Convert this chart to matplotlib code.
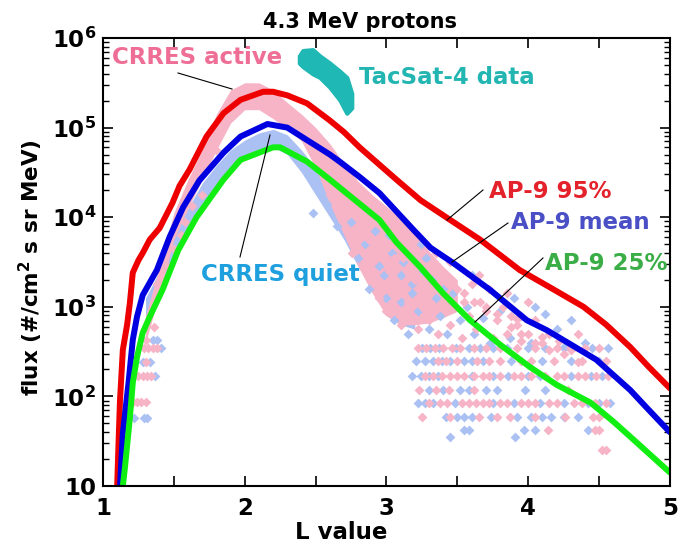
import matplotlib
matplotlib.use('Agg')
import matplotlib.pyplot as plt
import numpy as np
from matplotlib.ticker import FixedLocator, LogLocator, NullFormatter

plt.rcParams['font.family'] = ['DejaVu Sans']
plt.rcParams['font.weight'] = 'bold'
plt.rcParams['mathtext.fontset'] = 'dejavusans'
plt.rcParams['mathtext.default'] = 'bf'

# AP-9 model curves (L, log10 flux)
ap95_L = [1.10, 1.11, 1.12, 1.14, 1.17, 1.19, 1.21, 1.25, 1.28, 1.33, 1.40, 1.49, 1.54, 1.61, 1.73,
          1.85, 1.97, 2.13, 2.20, 2.30, 2.44, 2.60, 2.70, 2.81, 3.07, 3.24, 3.43, 3.66, 3.94, 4.15,
          4.39, 4.55, 4.72, 4.85, 5.00]
ap95_log = [1.0, 1.5, 1.96, 2.52, 2.80, 3.05, 3.38, 3.52, 3.60, 3.75, 3.88, 4.16, 4.35, 4.53, 4.90,
            5.16, 5.31, 5.40, 5.40, 5.36, 5.27, 5.08, 4.95, 4.78, 4.42, 4.19, 3.99, 3.75, 3.41, 3.22,
            3.00, 2.80, 2.55, 2.33, 2.09]

apmean_L = [1.12, 1.14, 1.18, 1.21, 1.24, 1.28, 1.38, 1.47, 1.565, 1.68, 1.85, 1.97, 2.16, 2.30,
            2.44, 2.60, 2.67, 2.81, 2.95, 3.19, 3.31, 3.47, 3.73, 3.99, 4.13, 4.30, 4.48, 4.72,
            4.85, 5.00]
apmean_log = [1.0, 1.59, 2.15, 2.63, 2.89, 3.13, 3.41, 3.78, 4.11, 4.41, 4.72, 4.90, 5.04, 5.00,
              4.86, 4.70, 4.62, 4.45, 4.27, 3.86, 3.66, 3.49, 3.19, 2.85, 2.74, 2.58, 2.41, 2.07,
              1.85, 1.60]

ap25_L = [1.14, 1.155, 1.19, 1.21, 1.24, 1.28, 1.33, 1.42, 1.53, 1.66, 1.85, 1.97, 2.20, 2.25,
          2.44, 2.60, 2.95, 3.07, 3.24, 3.40, 3.59, 3.80, 4.01, 4.20, 4.44, 4.60, 4.72, 4.86, 5.00]
ap25_log = [1.0, 1.21, 1.77, 2.15, 2.44, 2.71, 2.89, 3.19, 3.63, 4.00, 4.42, 4.64, 4.78, 4.78,
            4.62, 4.42, 3.97, 3.72, 3.44, 3.15, 2.85, 2.58, 2.33, 2.13, 1.93, 1.72, 1.55, 1.35, 1.15]

# CRRES dense cores (L, low/high log10 flux)
act_L = [1.30, 1.40, 1.50, 1.60, 1.70, 1.80, 1.90, 2.00, 2.10, 2.20, 2.30, 2.40, 2.50, 2.60,
         2.70, 2.80, 2.90, 3.00, 3.10, 3.20, 3.30, 3.40, 3.50]
act_hi = [2.90, 3.45, 4.05, 4.42, 4.75, 5.15, 5.42, 5.50, 5.50, 5.42, 5.28, 5.15, 5.00, 4.82,
          4.60, 4.40, 4.25, 4.12, 3.98, 3.82, 3.62, 3.45, 3.30]
act_lo = [2.60, 3.15, 3.75, 4.10, 4.42, 4.75, 5.05, 5.20, 5.20, 5.10, 4.98, 4.85, 4.55, 4.15,
          3.80, 3.45, 3.15, 2.90, 2.80, 2.80, 2.82, 2.88, 2.95]

qui_L = [1.30, 1.40, 1.50, 1.60, 1.70, 1.80, 1.90, 2.00, 2.10, 2.20, 2.30, 2.40, 2.50, 2.60,
         2.70, 2.80, 2.90, 3.00, 3.10, 3.20]
qui_hi = [3.10, 3.40, 3.80, 4.10, 4.38, 4.58, 4.75, 4.86, 4.94, 4.98, 4.92, 4.75, 4.55, 4.35,
          4.15, 3.95, 3.75, 3.55, 3.35, 3.10]
qui_lo = [2.85, 3.15, 3.55, 3.88, 4.15, 4.35, 4.55, 4.66, 4.75, 4.78, 4.70, 4.50, 4.25, 4.00,
          3.75, 3.45, 3.20, 2.90, 2.80, 2.75]

# CRRES scattered points (L, log10 flux)
act_pts_L = [1.30, 1.29, 1.32, 1.35, 1.38, 1.30, 1.25, 1.28, 1.31, 1.34, 1.21, 1.24, 1.27, 1.30, 1.36,
             3.22, 3.28, 3.34, 3.40, 3.46, 3.52, 3.62, 3.70, 3.80, 3.92, 4.05, 4.20, 4.30, 4.40, 4.50,
             3.36, 3.42, 3.50, 3.64, 3.72, 3.80, 3.95, 4.02, 4.18, 4.38, 4.55,
             3.27, 3.33, 3.39, 3.45, 3.50, 3.55, 3.62, 3.68, 3.72, 3.80, 3.90, 3.95, 4.02, 4.12, 4.20,
             4.25, 4.35, 4.40, 4.48, 4.56,
             3.23, 3.35, 3.44, 3.62, 4.28,
             3.30, 3.38, 3.43, 3.53, 3.58, 3.63, 3.68, 3.72, 3.80, 3.85, 3.95, 4.00, 4.05, 4.15, 4.20,
             4.32, 4.38, 4.47, 4.55,
             3.25, 3.45, 3.65, 3.78, 3.87, 4.05, 4.26, 4.46, 4.50,
             4.14, 4.47, 4.50, 4.52, 4.55,
             2.76, 2.85, 2.90, 2.95, 3.00, 3.02, 3.08, 3.10, 3.12, 3.15, 3.20, 3.22, 3.25, 3.28, 3.30,
             3.33, 3.36, 3.40, 3.42, 3.45, 3.48, 3.50, 3.53, 3.55, 3.58, 3.60, 3.63, 3.66, 3.70, 3.72,
             3.75, 3.78, 3.82, 3.85, 3.88, 3.92, 3.95, 4.00, 4.05, 4.10, 4.15, 4.22, 4.30, 4.35, 3.35,
             3.45, 3.65, 3.85, 4.00, 3.10, 3.20, 1.80, 2.60,
             3.55, 3.62, 3.70, 3.78, 3.88, 3.95, 4.05, 4.15, 4.25, 4.35, 3.92, 4.10, 4.30,
             1.50, 1.58, 1.63, 1.70, 1.55, 1.45, 1.38, 2.70, 2.80, 2.88, 3.05, 3.15, 3.25]
act_pts_log = [2.63, 2.54, 2.54, 2.54, 2.54, 2.38, 2.23, 2.23, 2.23, 2.23, 1.94, 1.94, 1.94, 1.94, 2.77,
               2.54, 2.54, 2.54, 2.54, 2.54, 2.54, 2.54, 2.54, 2.54, 2.54, 2.54, 2.54, 2.54, 2.54, 2.54,
               2.40, 2.40, 2.40, 2.40, 2.40, 2.40, 2.40, 2.40, 2.40, 2.40, 2.40,
               2.23, 2.23, 2.23, 2.23, 2.23, 2.23, 2.23, 2.23, 2.23, 2.23, 2.23, 2.23, 2.23, 2.23, 2.23,
               2.23, 2.23, 2.23, 2.23, 2.23,
               2.07, 2.07, 2.07, 2.07, 2.07,
               1.93, 1.93, 1.93, 1.93, 1.93, 1.93, 1.93, 1.93, 1.93, 1.93, 1.93, 1.93, 1.93, 1.93, 1.93,
               1.93, 1.93, 1.93, 1.93,
               1.77, 1.77, 1.77, 1.77, 1.77, 1.77, 1.77, 1.77, 1.77,
               1.63, 1.63, 1.63, 1.40, 1.40,
               3.60, 3.45, 3.30, 3.10, 2.95, 3.40, 3.20, 2.80, 3.55, 3.05, 3.30, 2.75, 3.00, 3.45, 2.85,
               3.20, 2.70, 3.05, 3.30, 2.80, 3.00, 3.20, 2.65, 3.05, 2.90, 3.25, 2.75, 3.05, 2.95, 3.20,
               2.65, 2.85, 3.00, 2.70, 2.90, 2.80, 2.62, 2.70, 2.85, 2.60, 2.70, 2.62, 2.55, 2.70, 3.60,
               3.50, 3.35, 3.15, 3.05, 3.75, 3.65, 4.75, 4.25,
               3.15, 3.05, 3.00, 2.92, 2.78, 2.70, 2.60, 2.52, 2.47, 2.38, 2.86, 2.66, 2.52,
               3.65, 3.95, 4.12, 4.25, 3.80, 3.45, 3.25, 4.05, 3.90, 3.75, 3.55, 3.38, 3.25]

qui_pts_L = [1.35, 1.38, 1.41, 1.28, 1.33, 1.37, 1.22, 1.29, 1.31,
             3.25, 3.31, 3.37, 3.49, 3.58, 3.66, 3.75, 3.85, 4.00, 4.12, 4.25, 4.45, 4.56,
             3.21, 3.27, 3.33, 3.39, 3.45, 3.55, 3.60, 3.68, 3.88, 4.10, 4.30, 4.50,
             3.18, 3.24, 3.30, 3.36, 3.60, 3.75, 3.86, 4.00, 4.08, 4.30, 4.44, 4.52,
             3.30, 3.40, 3.52, 3.58, 3.70, 3.78, 3.98, 4.12,
             3.22, 3.27, 3.33, 3.48, 3.75, 3.90, 4.08, 4.25, 4.42, 4.50, 4.58,
             3.42, 3.50, 3.55, 3.60, 3.74, 3.92, 4.02, 4.10, 4.16, 4.25, 4.35,
             3.55, 3.58, 3.97, 4.05, 4.42, 3.45, 3.91,
             2.48, 2.65, 2.80, 2.88, 2.95, 3.00, 3.05, 3.10, 3.15, 3.18, 3.22, 3.26, 3.30, 3.35, 3.38,
             3.43, 3.47, 3.52, 3.57, 3.62, 3.68, 3.73, 3.80, 3.87, 3.95, 4.02, 4.12, 4.20, 4.30, 4.40,
             3.90, 4.05, 3.60, 4.25, 1.45, 1.62,
             2.85, 2.92, 2.98, 3.04, 3.12, 3.18, 3.24, 3.32, 3.40, 3.02, 3.10, 3.28, 2.75, 2.58]
qui_pts_log = [2.63, 2.63, 2.54, 2.38, 2.38, 2.23, 1.76, 1.76, 1.76,
               2.54, 2.54, 2.54, 2.54, 2.54, 2.54, 2.54, 2.54, 2.54, 2.54, 2.54, 2.54, 2.54,
               2.40, 2.40, 2.40, 2.40, 2.40, 2.40, 2.40, 2.40, 2.40, 2.40, 2.40, 2.40,
               2.23, 2.23, 2.23, 2.23, 2.23, 2.23, 2.23, 2.23, 2.23, 2.23, 2.23, 2.23,
               2.07, 2.07, 2.07, 2.07, 2.07, 2.07, 2.07, 2.07,
               1.93, 1.93, 1.93, 1.93, 1.93, 1.93, 1.93, 1.93, 1.93, 1.93, 1.93,
               1.77, 1.77, 1.77, 1.77, 1.77, 1.77, 1.77, 1.77, 1.77, 1.77, 1.77,
               1.63, 1.63, 1.63, 1.63, 1.63, 1.55, 1.55,
               4.05, 3.90, 3.55, 3.20, 3.45, 3.10, 2.85, 3.35, 2.70, 3.15, 2.95, 3.40, 2.75, 3.10, 2.90,
               2.70, 3.15, 2.85, 3.00, 2.70, 2.88, 2.60, 2.95, 2.65, 2.90, 2.60, 2.92, 2.75, 2.85, 2.60,
               3.10, 3.00, 3.35, 2.55, 3.45, 3.95,
               3.70, 3.85, 3.35, 3.60, 3.50, 3.25, 3.70, 3.30, 3.20, 3.80, 3.05, 3.55, 3.95, 4.15]

# TacSat-4 data (L, upper/lower log10 flux of the track)
tac_L = [2.385, 2.41, 2.48, 2.53, 2.60, 2.67, 2.72, 2.755]
tac_hi = [5.80, 5.86, 5.87, 5.80, 5.72, 5.63, 5.56, 5.38]
tac_lo = [5.72, 5.68, 5.60, 5.56, 5.45, 5.31, 5.16, 5.22]

pink = '#f6b4c6'
lblue = '#abc1f3'
teal = '#1fb8b4'


def px(x, y):
    # reference pixel -> data coords, only used for placing text and pointer lines
    return 1 + (x - 103) / 141.75, 10 ** (1 + (486 - y) / 89.6)


fig = plt.figure(figsize=(6.79, 5.42), dpi=100)
ax = fig.add_axes([0.1517, 0.1033, 0.835, 0.8266])

ax.fill_between(qui_L, 10 ** np.array(qui_lo), 10 ** np.array(qui_hi), color=lblue, lw=0)
ax.fill_between(act_L, 10 ** np.array(act_lo), 10 ** np.array(act_hi), color=pink, lw=0)
ax.scatter(qui_pts_L, 10 ** np.array(qui_pts_log), marker='D', s=25, color=lblue, lw=0)
ax.scatter(act_pts_L, 10 ** np.array(act_pts_log), marker='D', s=25, color=pink, lw=0)

ax.fill_between(tac_L, 10 ** np.array(tac_lo), 10 ** np.array(tac_hi), color=teal,
                edgecolor=teal, lw=3, joinstyle='round')

ax.plot(ap95_L, 10 ** np.array(ap95_log), color='#ee0000', lw=4.3, solid_capstyle='round')
ax.plot(apmean_L, 10 ** np.array(apmean_log), color='#0000e0', lw=4.3, solid_capstyle='round')
ax.plot(ap25_L, 10 ** np.array(ap25_log), color='#11ee11', lw=4.3, solid_capstyle='round')

ax.set_yscale('log')
ax.set_xlim(1, 5)
ax.set_ylim(10, 1e6)

ax.xaxis.set_major_locator(FixedLocator([1, 2, 3, 4, 5]))
ax.xaxis.set_minor_locator(FixedLocator([1.5, 2.5, 3.5, 4.5]))
ax.set_xticklabels(['1', '2', '3', '4', '5'])
ax.yaxis.set_major_locator(FixedLocator([1e1, 1e2, 1e3, 1e4, 1e5, 1e6]))
ax.yaxis.set_minor_locator(LogLocator(base=10, subs=np.arange(2, 10)))
ax.yaxis.set_minor_formatter(NullFormatter())
ax.set_yticklabels(['10', '$10^2$', '$10^3$', '$10^4$', '$10^5$', '$10^6$'])
ax.tick_params(which='both', direction='in', top=True, right=True, labelsize=16.5)
ax.tick_params(axis='y', pad=5)
ax.tick_params(axis='x', pad=8)
ax.tick_params(which='major', length=7, width=1.2)
ax.tick_params(which='minor', length=4, width=1)
ax.tick_params(axis='x', which='minor', length=7, width=1.2)
for s in ax.spines.values():
    s.set_linewidth(1.5)

fig.text(360 / 679, 1 - 22 / 542, '4.3 MeV protons', fontsize=15, fontweight='bold',
         ha='center', va='center')
ax.set_xlabel('L value', fontsize=16.5, fontweight='bold')
ax.xaxis.set_label_coords(0.42, -0.077)
ax.set_ylabel('flux (#/cm$^2$ s sr MeV)', fontsize=15.5, fontweight='bold')
ax.yaxis.set_label_coords(-0.102, 0.487)

lbl = dict(fontsize=16.5, fontweight='bold', ha='center', va='center')
ax.text(*px(197, 58), 'CRRES active', color='#ef6e96', **lbl)
ax.text(*px(447, 78), 'TacSat-4 data', color='#22b5b2', **lbl)
ax.text(*px(550, 191), 'AP-9 95%', color='#e4222c', **lbl)
ax.text(*px(580, 222), 'AP-9 mean', color='#4a4fc6', **lbl)
ax.text(*px(606, 263), 'AP-9 25%', color='#3aad47', **lbl)
ax.text(*px(280, 274), 'CRRES quiet', color='#1e9fde', **lbl)

ptr = dict(color='black', lw=0.8)
for (x0, y0), (x1, y1) in [((178, 73), (232, 89)), ((240, 257), (270, 135)),
                           ((483, 190), (447, 220)), ((508, 223), (452, 262)),
                           ((543, 258), (475, 322))]:
    a, b = px(x0, y0)
    c, d = px(x1, y1)
    ax.plot([a, c], [b, d], **ptr)

fig.savefig('out.png', dpi=100)
